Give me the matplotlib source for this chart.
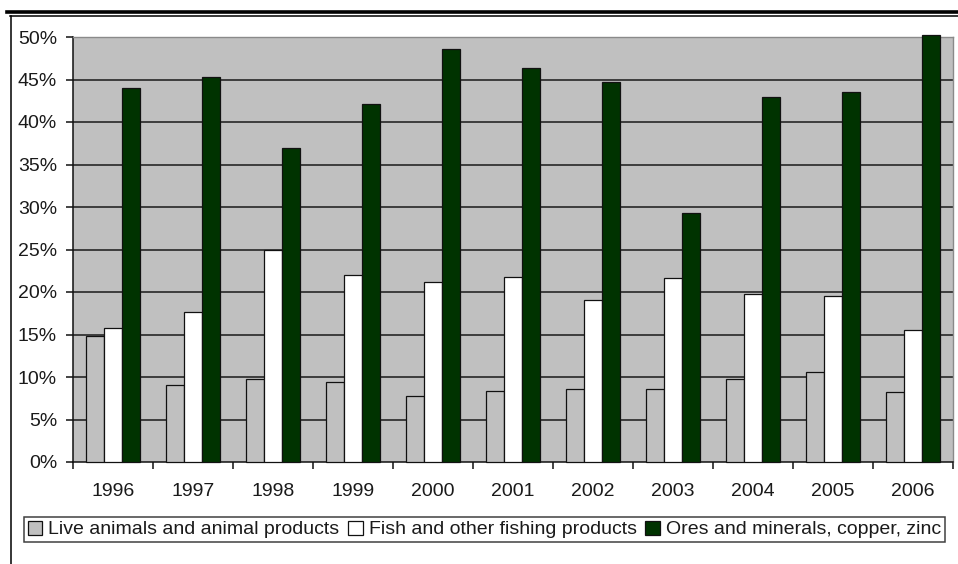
import matplotlib
matplotlib.use("Agg")
import matplotlib.pyplot as plt
from matplotlib.lines import Line2D
from matplotlib.patches import Patch
import numpy as np

plt.rcParams['font.family'] = ['Liberation Sans', 'DejaVu Sans']

years = ["1996", "1997", "1998", "1999", "2000", "2001", "2002", "2003", "2004", "2005", "2006"]
live_animals = [14.8, 9.1, 9.8, 9.4, 7.8, 8.4, 8.6, 8.6, 9.8, 10.6, 8.2]
fish = [15.8, 17.6, 24.9, 22.0, 21.2, 21.8, 19.1, 21.6, 19.8, 19.5, 15.5]
ores = [44.0, 45.3, 36.9, 42.1, 48.6, 46.4, 44.7, 29.3, 43.0, 43.5, 50.2]
series_names = ["Live animals and animal products", "Fish and other fishing products",
                "Ores and minerals, copper, zinc"]
series_colors = ["#C0C0C0", "#FFFFFF", "#003300"]
yticks = [0, 5, 10, 15, 20, 25, 30, 35, 40, 45, 50]

W, H = 958, 564
fig = plt.figure(figsize=(W / 100, H / 100), dpi=100)
ax = fig.add_axes([73 / W, (H - 462) / H, 880 / W, 425 / H])
ax.set_facecolor("#C0C0C0")

x = np.arange(len(years))
bw = 0.225
for k, (vals, col) in enumerate(zip([live_animals, fish, ores], series_colors)):
    ax.bar(x + (k - 1) * bw, vals, width=bw, color=col, edgecolor="#111111",
           linewidth=0.9, zorder=3, clip_on=False)

ax.set_xlim(-0.5, len(years) - 0.5)
ax.set_ylim(0, 50)
ax.hlines(yticks[1:-1], -0.5, len(years) - 0.5, colors="#1a1a1a", linewidth=1.1, zorder=1)

ax.set_yticks(yticks)
ax.set_yticklabels([f"{v}%" for v in yticks])
ax.set_xticks(np.arange(len(years) + 1) - 0.5)
ax.set_xticklabels([])
ax.set_xticks(x, minor=True)
ax.set_xticklabels(years, minor=True)
ax.tick_params(axis="x", which="major", length=5, width=1.1, color="#111111")
ax.tick_params(axis="x", which="minor", length=0, pad=15, labelsize=14, labelcolor="#1a1a1a")
ax.tick_params(axis="y", length=5, width=1.1, color="#111111", labelsize=14,
               labelcolor="#1a1a1a", pad=6.5)

for s in ["left", "bottom"]:
    ax.spines[s].set_color("#111111")
    ax.spines[s].set_linewidth(1.1)
for s in ["top", "right"]:
    ax.spines[s].set_color("#8a8a8a")
    ax.spines[s].set_linewidth(1.0)

handles = [Patch(facecolor=c, edgecolor="#111111", linewidth=0.9) for c in series_colors]
leg = fig.legend(handles, series_names, loc="center left",
                 bbox_to_anchor=(24 / W, 1 - 529.5 / H), ncol=3, frameon=True,
                 fancybox=False, fontsize=14, handlelength=0.75, handleheight=0.75,
                 handletextpad=0.3, columnspacing=0.45, borderpad=0.2,
                 borderaxespad=0)
leg.get_frame().set_edgecolor("#111111")
leg.get_frame().set_linewidth(1.1)
for t in leg.get_texts():
    t.set_color("#1a1a1a")

# page decorations
fig.add_artist(Line2D([7 / W, 1], [1 - 11.7 / H, 1 - 11.7 / H], color="black", linewidth=2.6))
fig.add_artist(Line2D([10 / W, 1], [1 - 15.8 / H, 1 - 15.8 / H], color="black", linewidth=1.1))
fig.add_artist(Line2D([10.5 / W, 10.5 / W], [0, 1 - 15.8 / H], color="black", linewidth=1.1))

fig.savefig("out.png", dpi=100)
